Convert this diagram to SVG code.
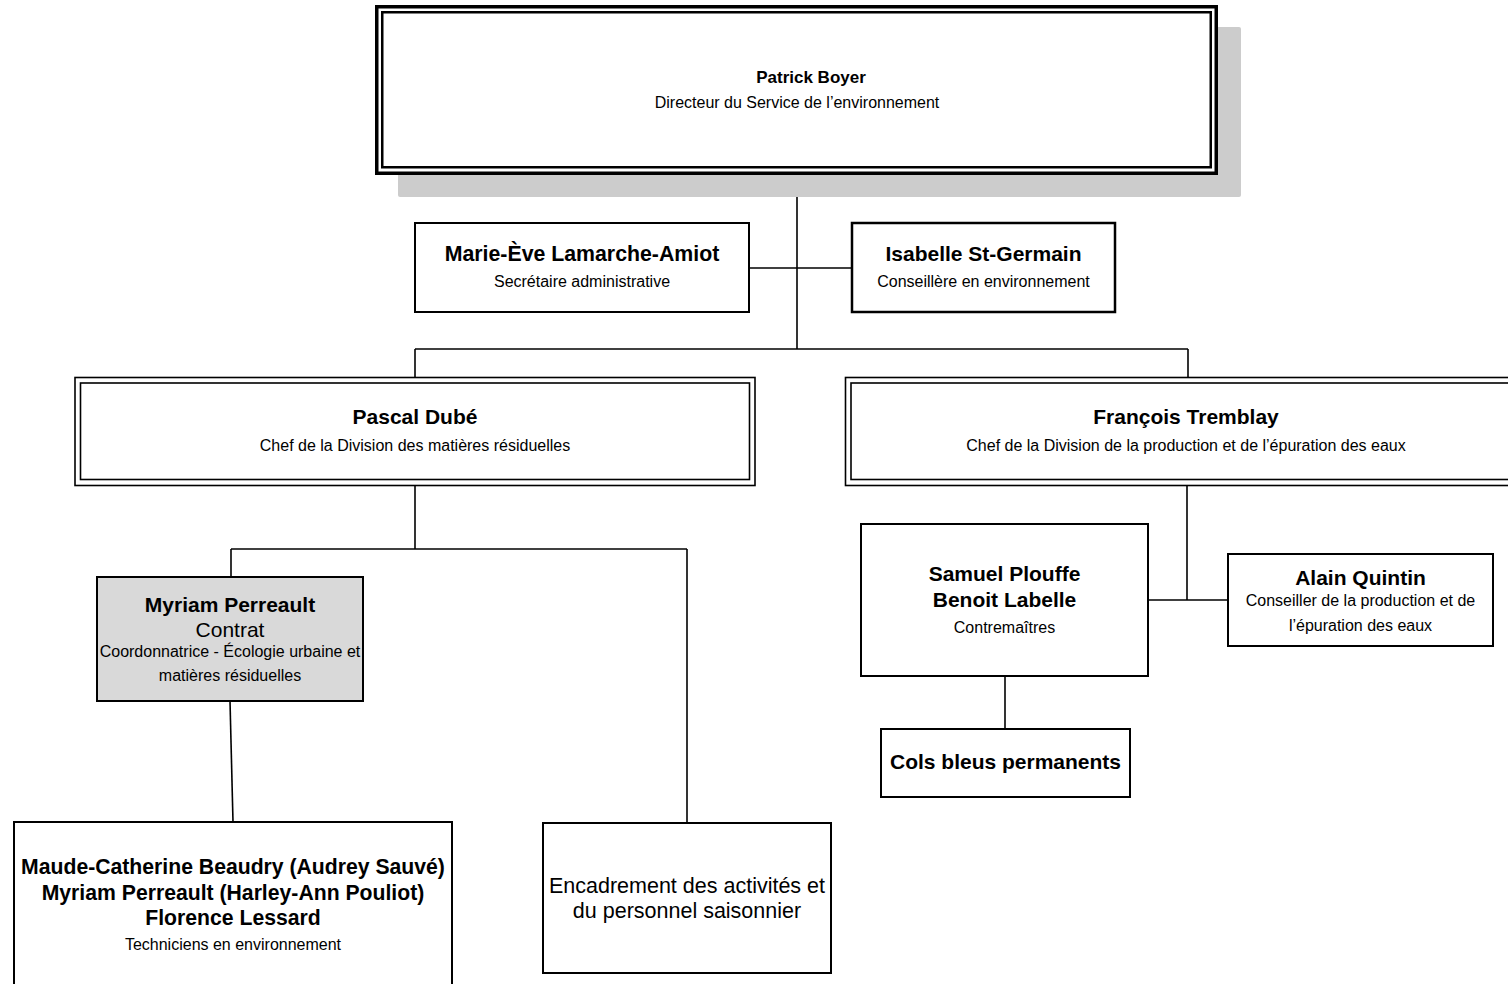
<svg xmlns="http://www.w3.org/2000/svg" width="1508" height="984" viewBox="0 0 1508 984">
<style>
.box{fill:#fff;stroke:#000;stroke-width:2}
.dbl{fill:none;stroke:#000;stroke-width:1.6}
.ln{fill:none;stroke:#000;stroke-width:1.6}
text{font-family:"Liberation Sans",Arial,Helvetica,sans-serif;fill:#000;text-anchor:middle}
.b{font-weight:bold;font-size:21px}
.s{font-size:16px}
.m{font-size:21px}
</style>
<rect width="1508" height="984" fill="#fff"/>
<g id="connectors">
<line class="ln" x1="797" y1="175" x2="797" y2="349"/>
<line class="ln" x1="749" y1="268" x2="852" y2="268"/>
<line class="ln" x1="415" y1="349" x2="1188" y2="349"/>
<line class="ln" x1="415" y1="349" x2="415" y2="377"/>
<line class="ln" x1="1188" y1="349" x2="1188" y2="377"/>
<line class="ln" x1="415" y1="486" x2="415" y2="549"/>
<line class="ln" x1="231" y1="549" x2="687" y2="549"/>
<line class="ln" x1="231" y1="549" x2="231" y2="577"/>
<line class="ln" x1="687" y1="549" x2="687" y2="823"/>
<line class="ln" x1="230" y1="701" x2="233" y2="822"/>
<line class="ln" x1="1187" y1="485" x2="1187" y2="600"/>
<line class="ln" x1="1148" y1="600" x2="1228" y2="600"/>
<line class="ln" x1="1005" y1="676" x2="1005" y2="729"/>
</g>
<g id="patrick-boyer">
<rect x="398" y="27" width="843" height="170" rx="2" fill="#cccccc"/>
<rect x="376.75" y="6.75" width="839.5" height="166.5" fill="#fff" stroke="#000" stroke-width="3.5"/>
<rect x="382.25" y="12.25" width="828.5" height="155" fill="none" stroke="#000" stroke-width="2.5"/>
<text class="b" x="811" y="83" style="font-size:17px">Patrick Boyer</text>
<text class="s" x="797" y="108">Directeur du Service de l’environnement</text>
</g>
<g id="marie-eve">
<rect class="box" x="415" y="223" width="334" height="89"/>
<text class="b" x="582" y="261" style="font-size:21.3px">Marie-Ève Lamarche-Amiot</text>
<text class="s" x="582" y="287">Secrétaire administrative</text>
</g>
<g id="isabelle">
<rect class="box" x="852" y="223" width="263" height="89" style="stroke-width:2.5"/>
<text class="b" x="983.5" y="261">Isabelle St-Germain</text>
<text class="s" x="983.5" y="287">Conseillère en environnement</text>
</g>
<g id="pascal-dube">
<rect x="75" y="377.5" width="680" height="108" fill="#fff" stroke="#000" stroke-width="1.6"/>
<rect class="dbl" x="80.5" y="383" width="669" height="96.5"/>
<text class="b" x="415" y="424">Pascal Dubé</text>
<text class="s" x="415" y="451">Chef de la Division des matières résiduelles</text>
</g>
<g id="francois-tremblay">
<rect x="845.5" y="377.5" width="700" height="108" fill="#fff" stroke="#000" stroke-width="1.6"/>
<rect class="dbl" x="851" y="383" width="689" height="96.5"/>
<text class="b" x="1186" y="424">François Tremblay</text>
<text class="s" x="1186" y="451">Chef de la Division de la production et de l’épuration des eaux</text>
</g>
<g id="myriam-perreault">
<rect x="97" y="577" width="266" height="124" fill="#d9d9d9" stroke="#000" stroke-width="2"/>
<text class="b" x="230" y="612">Myriam Perreault</text>
<text class="m" x="230" y="637">Contrat</text>
<text class="s" x="230" y="657">Coordonnatrice - Écologie urbaine et</text>
<text class="s" x="230" y="681">matières résiduelles</text>
</g>
<g id="techniciens">
<rect class="box" x="14" y="822" width="438" height="180"/>
<text class="b" x="233" y="874" style="font-size:21.2px">Maude-Catherine Beaudry (Audrey Sauvé)</text>
<text class="b" x="233" y="900" style="font-size:21.2px">Myriam Perreault (Harley-Ann Pouliot)</text>
<text class="b" x="233" y="925" style="font-size:21.2px">Florence Lessard</text>
<text class="s" x="233" y="950">Techniciens en environnement</text>
</g>
<g id="encadrement">
<rect class="box" x="543" y="823" width="288" height="150"/>
<text class="m" x="687" y="893" style="font-size:21.5px">Encadrement des activités et</text>
<text class="m" x="687" y="918" style="font-size:21.5px">du personnel saisonnier</text>
</g>
<g id="contremaitres">
<rect class="box" x="861" y="524" width="287" height="152"/>
<text class="b" x="1004.5" y="581">Samuel Plouffe</text>
<text class="b" x="1004.5" y="607">Benoit Labelle</text>
<text class="s" x="1004.5" y="633">Contremaîtres</text>
</g>
<g id="alain-quintin">
<rect class="box" x="1228" y="554" width="265" height="92"/>
<text class="b" x="1360.5" y="585">Alain Quintin</text>
<text class="s" x="1360.5" y="606">Conseiller de la production et de</text>
<text class="s" x="1360.5" y="631">l’épuration des eaux</text>
</g>
<g id="cols-bleus">
<rect class="box" x="881" y="729" width="249" height="68"/>
<text class="b" x="1005.5" y="769">Cols bleus permanents</text>
</g>
</svg>
